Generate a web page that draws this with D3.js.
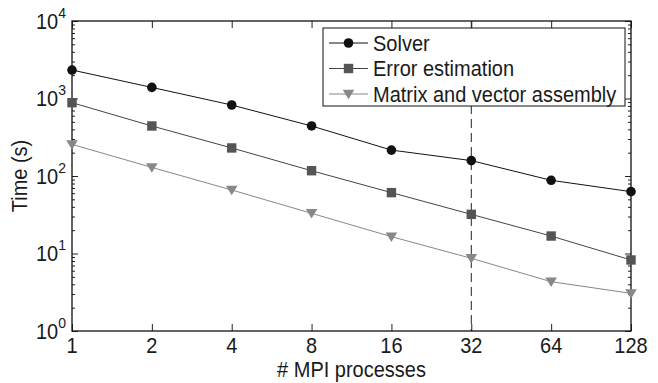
<!DOCTYPE html>
<html>
<head>
<meta charset="utf-8">
<script src="https://cdn.jsdelivr.net/npm/d3@7"></script>
<style>
  body { margin: 0; background: #fff; }
  text { font-family: "Liberation Sans", Arial, Helvetica, sans-serif; fill: #1a1a1a; }
</style>
</head>
<body>
<div id="chart"></div>
<script>
const processes = [1, 2, 4, 8, 16, 32, 64, 128];
const solver = [2330, 1390, 824, 442, 216, 158, 88, 62.8];
const errorEstimation = [883, 442, 230, 117, 61, 32, 16.8, 8.25];
const assembly = [256, 129, 66, 33, 16.5, 8.67, 4.33, 3.06];
const seriesNames = ["Solver", "Error estimation", "Matrix and vector assembly"];
const yDecades = [1, 10, 100, 1000, 10000];
const markedProcess = 32;

const width = 658, height = 383;
const margin = {top: 21, right: 27, bottom: 52, left: 72};
const iw = width - margin.left - margin.right;
const ih = height - margin.top - margin.bottom;
const stretchY = 1.06; // glyphs in the figure are a bit taller than wide

const series = [
  {name: seriesNames[0], values: solver, line: "#111", fill: "#111", marker: "circle"},
  {name: seriesNames[1], values: errorEstimation, line: "#444", fill: "#555", marker: "square"},
  {name: seriesNames[2], values: assembly, line: "#888", fill: "#888", marker: "triangle"}
];

const svg = d3.select("#chart").append("svg")
  .attr("width", width)
  .attr("height", height);

const g = svg.append("g")
  .attr("transform", `translate(${margin.left},${margin.top})`);

const x = d3.scaleLog().base(2).domain([1, 128]).range([0, iw]);
const y = d3.scaleLog().domain([1, 10000]).range([ih, 0]);

// helper: put text at (px,py) baseline, stretched vertically
const placeText = (sel, px, py, rot) =>
  sel.attr("transform", (d, i) => {
    const X = typeof px === "function" ? px(d, i) : px;
    const Y = typeof py === "function" ? py(d, i) : py;
    return `translate(${X},${Y})` + (rot ? ` rotate(${rot})` : "") + ` scale(1,${stretchY})`;
  });

// minor ticks for log axis
const minorTicks = [];
yDecades.slice(0, -1).forEach(d => {
  for (let k = 2; k <= 9; k++) minorTicks.push(d * k);
});

// axes, matlab style: ticks inside on all four sides
const bottomAxis = d3.axisBottom(x).tickValues(processes).tickSizeInner(-7).tickSizeOuter(0).tickFormat("");
const topAxis = d3.axisTop(x).tickValues(processes).tickSizeInner(-7).tickSizeOuter(0).tickFormat("");
const leftAxis = d3.axisLeft(y).tickValues(yDecades).tickSizeInner(-6).tickSizeOuter(0).tickFormat("");
const rightAxis = d3.axisRight(y).tickValues(yDecades).tickSizeInner(-6).tickSizeOuter(0).tickFormat("");
const leftMinor = d3.axisLeft(y).tickValues(minorTicks).tickSizeInner(-3).tickSizeOuter(0).tickFormat("");
const rightMinor = d3.axisRight(y).tickValues(minorTicks).tickSizeInner(-3).tickSizeOuter(0).tickFormat("");

const styleAxis = sel => {
  sel.select(".domain").remove();
  sel.selectAll("line").attr("stroke", "#222").attr("stroke-width", 1);
  sel.selectAll("text").remove();
};

g.append("g").attr("transform", `translate(0,${ih})`).call(bottomAxis).call(styleAxis);
g.append("g").call(topAxis).call(styleAxis);
g.append("g").call(leftAxis).call(styleAxis);
g.append("g").attr("transform", `translate(${iw},0)`).call(rightAxis).call(styleAxis);
g.append("g").call(leftMinor).call(styleAxis);
g.append("g").attr("transform", `translate(${iw},0)`).call(rightMinor).call(styleAxis);

// x tick labels
g.append("g").selectAll("text")
  .data(processes)
  .enter().append("text")
  .attr("text-anchor", "middle")
  .attr("font-size", 20)
  .call(placeText, d => x(d), ih + 21.5)
  .text(d => d);

// y tick labels 10^n
const yLab = g.append("g").selectAll("text")
  .data(yDecades)
  .enter().append("text")
  .attr("text-anchor", "end")
  .attr("font-size", 20)
  .call(placeText, -6, d => y(d) + 7.5);
yLab.append("tspan").text("10");
yLab.append("tspan")
  .attr("font-size", 14)
  .attr("dy", -10)
  .text(d => Math.round(Math.log10(d)));

// dashed line at 32 processes
g.append("line")
  .attr("x1", x(markedProcess)).attr("x2", x(markedProcess))
  .attr("y1", 0).attr("y2", ih)
  .attr("stroke", "#222")
  .attr("stroke-width", 1)
  .attr("stroke-dasharray", "9,5");

// box
g.append("rect")
  .attr("width", iw).attr("height", ih)
  .attr("fill", "none").attr("stroke", "#111").attr("stroke-width", 1.3);

const line = d3.line()
  .x((d, i) => x(processes[i]))
  .y(d => y(d));

const drawMarker = (sel, type, fill) => {
  if (type === "circle") {
    sel.append("circle").attr("r", 4.8).attr("fill", fill);
  } else if (type === "square") {
    sel.append("rect").attr("x", -4.7).attr("y", -4.7).attr("width", 9.4).attr("height", 9.4).attr("fill", fill);
  } else {
    sel.append("path").attr("d", "M-5.8,-4.2L5.8,-4.2L0,5.3Z").attr("fill", fill);
  }
};

series.forEach(s => {
  g.append("path")
    .datum(s.values)
    .attr("fill", "none")
    .attr("stroke", s.line)
    .attr("stroke-width", 1)
    .attr("d", line);

  g.append("g").selectAll("g")
    .data(s.values)
    .enter().append("g")
    .attr("transform", (d, i) => `translate(${x(processes[i])},${y(d)})`)
    .each(function() { drawMarker(d3.select(this), s.marker, s.fill); });
});

// legend
const legend = svg.append("g").attr("transform", "translate(323,28)");
legend.append("rect")
  .attr("width", 302).attr("height", 78)
  .attr("fill", "#fff").attr("stroke", "#111").attr("stroke-width", 1);

series.forEach((s, i) => {
  const row = legend.append("g").attr("transform", `translate(0,${15 + i * 25.5})`);
  row.append("line").attr("x1", 6).attr("x2", 45).attr("stroke", s.line).attr("stroke-width", 1);
  drawMarker(row.append("g").attr("transform", "translate(25.5,0)"), s.marker, s.fill);
  row.append("text").attr("font-size", 20).call(placeText, 50, 7.5).text(s.name);
});

// axis titles
svg.append("text")
  .attr("text-anchor", "middle")
  .attr("font-size", 20)
  .call(placeText, margin.left + iw / 2, 377)
  .text("# MPI processes");

svg.append("text")
  .attr("text-anchor", "middle")
  .attr("font-size", 20)
  .call(placeText, 27, margin.top + ih / 2, -90)
  .text("Time (s)");
</script>
</body>
</html>
